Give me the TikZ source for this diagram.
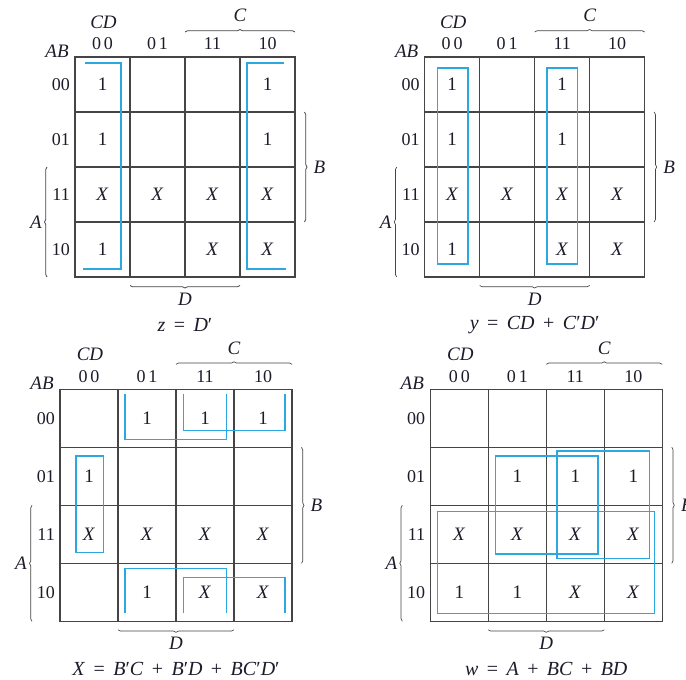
\documentclass[tikz,border=0pt]{standalone}
\usepackage{fontspec}
\setmainfont{Liberation Serif}
\usetikzlibrary{decorations.pathreplacing}

\definecolor{ink}{HTML}{1C1C2A}
\definecolor{gridgray}{HTML}{454545}
\definecolor{loopblue}{HTML}{2BA8E0}

\tikzset{
  kline/.style={draw=gridgray, line width=1.1pt},
  kloop/.style={draw=loopblue, line width=1.2pt},
  kbrace/.style={draw=gridgray, line width=0.7pt, decorate, decoration={brace, amplitude=2.5pt}},
  entry/.style={text=ink, font=\fontsize{19}{22}\selectfont, inner sep=0pt},
  head/.style={text=ink, font=\fontsize{18}{21}\selectfont, inner sep=0pt},
  letter/.style={text=ink, font=\fontsize{19}{22}\selectfont\itshape, inner sep=0pt},
  caption/.style={text=ink, font=\fontsize{20}{24}\selectfont, inner sep=0pt,
    execute at begin node={\spaceskip=8.4pt\relax}},
}

% frame of one map: #1 name, #2 cell size (pt), #3 caption
\newcommand{\kframe}[3]{%
  \draw[kline] (0,0) rectangle (4*#2,4*#2);
  \foreach \i in {1,2,3} {
    \draw[kline] (\i*#2,0) -- (\i*#2,4*#2);
    \draw[kline] (0,\i*#2) -- (4*#2,\i*#2);
  }
  % headings
  \foreach \lab [count=\i from 0] in {0\,0,0\,1,11,10}
    \node[head] (#1-c\i) at ({(\i+0.5)*#2},-13) {\lab};
  \foreach \lab [count=\i from 0] in {00,01,11,10}
    \node[head, anchor=east] (#1-r\i) at (-5,{(\i+0.5)*#2}) {\lab};
  \node[letter] (#1-cd) at ({0.5*#2+1},-35) {CD};
  \node[letter] (#1-ab) at (-18,-6) {AB};
  % variable braces
  \draw[kbrace] (2*#2,-25) -- (4*#2,-25);
  \node[letter] (#1-C) at (3*#2,-41.5) {C};
  \draw[kbrace] (4*#2+9.5,#2) -- (4*#2+9.5,3*#2);
  \node[letter] (#1-B) at (4*#2+24.5,2*#2) {B};
  \draw[kbrace] (-28,4*#2) -- (-28,2*#2);
  \node[letter] (#1-A) at (-39,3*#2) {A};
  \draw[kbrace] (3*#2,4*#2+8.5) -- (#2,4*#2+8.5);
  \node[letter] (#1-D) at (2*#2,4*#2+22) {D};
  \node[caption] (#1-eq) at (2*#2,4*#2+48) {#3};
}

\begin{document}
\begin{tikzpicture}[x=1pt,y=-1pt]
\useasboundingbox[fill=white] (0,0) rectangle (686,680);

% z = D'
\begin{scope}[shift={(75,57)}]
\kframe{z}{55}{\textit{z} = \textit{D}′}
\foreach \c/\r in {0/0,3/0,0/1,3/1,0/3}
  \node[entry] (z-\c\r) at ({(\c+0.5)*55},{(\r+0.5)*55}) {1};
\foreach \c/\r in {0/2,1/2,2/2,3/2,2/3,3/3}
  \node[entry] (z-\c\r) at ({(\c+0.5)*55},{(\r+0.5)*55}) {\textit{X}};
\draw[kloop] (10,6) -- (46,6) -- (46,212) -- (8,212);
\draw[kloop] (209,6) -- (172,6) -- (172,212) -- (211,212);
\end{scope}

% y = CD + C'D'
\begin{scope}[shift={(424.7,57)}]
\kframe{y}{55}{\textit{y} = \textit{CD} + \textit{C}′\textit{D}′}
\foreach \c/\r in {0/0,2/0,0/1,2/1,0/3}
  \node[entry] (y-\c\r) at ({(\c+0.5)*55},{(\r+0.5)*55}) {1};
\foreach \c/\r in {0/2,1/2,2/2,3/2,2/3,3/3}
  \node[entry] (y-\c\r) at ({(\c+0.5)*55},{(\r+0.5)*55}) {\textit{X}};
\draw[kloop] (12.6,11) rectangle (43.3,207);
\draw[kloop] (122.3,11) rectangle (152.6,207);
\end{scope}

% X = B'C + B'D + BC'D'
\begin{scope}[shift={(60,389.3)}]
\kframe{x}{58}{\textit{X} = \textit{B}′\textit{C} + \textit{B}′\textit{D} + \textit{BC}′\textit{D}′}
\foreach \c/\r in {1/0,2/0,3/0,0/1,1/3}
  \node[entry] (x-\c\r) at ({(\c+0.5)*58},{(\r+0.5)*58}) {1};
\foreach \c/\r in {0/2,1/2,2/2,3/2,2/3,3/3}
  \node[entry] (x-\c\r) at ({(\c+0.5)*58},{(\r+0.5)*58}) {\textit{X}};
\draw[kloop] (65,4.7) -- (65,50) -- (166.7,50) -- (166.7,4.7);
\draw[kloop] (123.3,4.7) -- (123.3,41.4) -- (225,41.4) -- (225,4.7);
\draw[kloop] (65,223.4) -- (65,179) -- (166.7,179) -- (166.7,223.4);
\draw[kloop] (123.3,223.4) -- (123.3,188) -- (225,188) -- (225,223.4);
\draw[kloop] (16,66.7) rectangle (43.3,163.4);
\end{scope}

% w = A + BC + BD
\begin{scope}[shift={(430.3,389.3)}]
\kframe{w}{58}{\textit{w} = \textit{A} + \textit{BC} + \textit{BD}}
\foreach \c/\r in {1/1,2/1,3/1,0/3,1/3}
  \node[entry] (w-\c\r) at ({(\c+0.5)*58},{(\r+0.5)*58}) {1};
\foreach \c/\r in {0/2,1/2,2/2,3/2,2/3,3/3}
  \node[entry] (w-\c\r) at ({(\c+0.5)*58},{(\r+0.5)*58}) {\textit{X}};
\draw[kloop] (7,122.4) rectangle (224.4,224);
\draw[kloop] (65,66.7) rectangle (167.7,164.7);
\draw[kloop] (126.7,61.7) rectangle (219.4,169);
\end{scope}

\end{tikzpicture}
\end{document}
